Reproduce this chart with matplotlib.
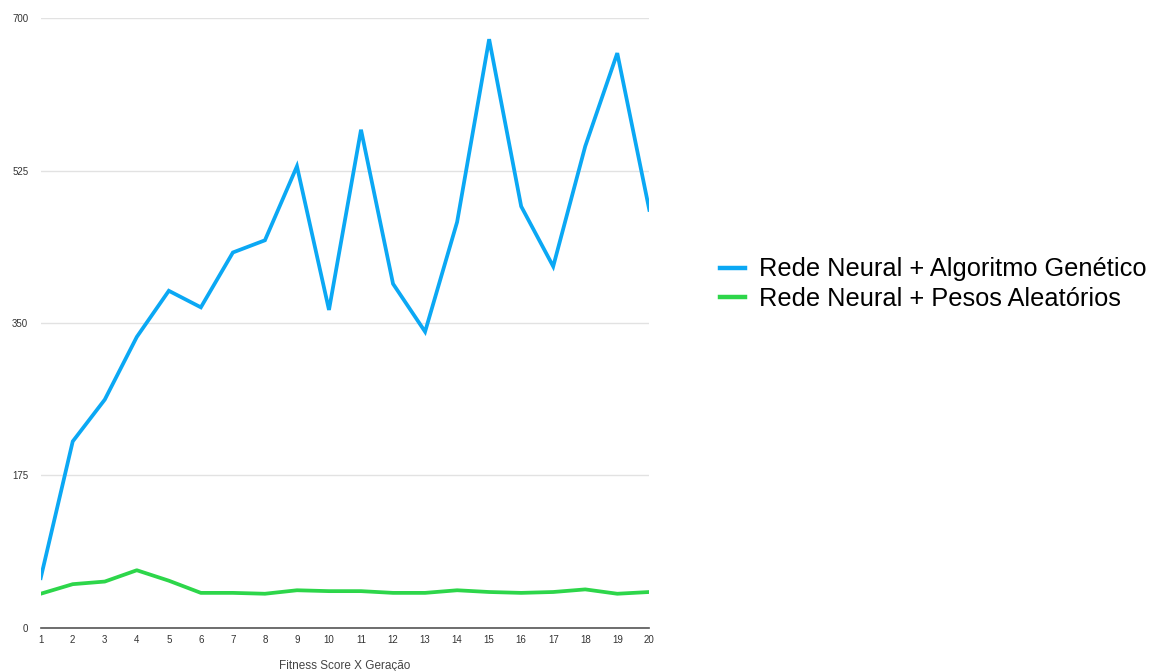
import matplotlib
matplotlib.use("Agg")
import matplotlib.pyplot as plt

plt.rcParams['font.family'] = ['Liberation Sans', 'DejaVu Sans']

geracoes = list(range(1, 21))
algoritmo_genetico = [57, 214, 262, 334, 387, 368, 431, 445, 530, 365,
                      572, 395, 340, 466, 676, 484, 415, 553, 660, 480]
pesos_aleatorios = [39, 50, 53, 66, 54, 40, 40, 39, 43, 42,
                    42, 40, 40, 43, 41, 40, 41, 44, 39, 41]
y_ticks = [0, 175, 350, 525, 700]

W, H = 1154, 671
fig = plt.figure(figsize=(W / 100, H / 100), dpi=100)
ax = fig.add_axes([40.7 / W, 1 - 627.7 / H, (649.3 - 40.7) / W, (627.7 - 18.3) / H])

azul = '#0BA8F4'
verde = '#2DD64A'
ax.plot(geracoes, algoritmo_genetico, color=azul, lw=2.7, solid_joinstyle='miter',
        label='Rede Neural + Algoritmo Genético', zorder=3)
ax.plot(geracoes, pesos_aleatorios, color=verde, lw=2.7,
        label='Rede Neural + Pesos Aleatórios', zorder=3)

ax.set_xlim(1, 20)
ax.set_ylim(0, 700)
ax.set_xticks(geracoes)
ax.set_yticks(y_ticks)
ax.yaxis.grid(True, color='#e2e2e2', lw=1)
ax.set_axisbelow(True)
for s in ['top', 'right', 'left']:
    ax.spines[s].set_visible(False)
ax.spines['bottom'].set_color('#555555')
ax.spines['bottom'].set_linewidth(1.2)
ax.tick_params(axis='both', length=0, labelsize=7, colors='#333333')
ax.tick_params(axis='y', pad=9)
ax.tick_params(axis='x', pad=5)
ax.set_xlabel('Fitness Score X Geração', fontsize=8.5, color='#444444', labelpad=11)

leg = fig.legend(loc='center left', bbox_to_anchor=(720 / W, 1 - 284 / H),
                 frameon=False, fontsize=18.3, handlelength=0.97, handletextpad=0.58,
                 labelspacing=0.2, borderpad=0, borderaxespad=0)
for h in leg.get_lines():
    h.set_linewidth(3.2)

fig.savefig('out.png', dpi=100)
